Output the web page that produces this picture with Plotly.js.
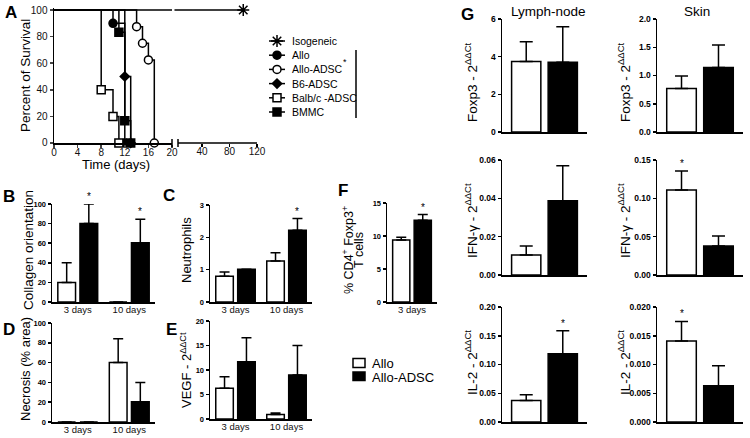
<!DOCTYPE html>
<html><head><meta charset="utf-8">
<script src="https://cdn.plot.ly/plotly-3.0.1.min.js"></script>
<style>html,body{margin:0;padding:0;background:#fff}#chart{width:750px;height:438px}</style>
</head><body><div id="chart"></div>
<script>
// ---------- Panel A : survival ----------
const isoDays = [0, 100],          isoSurv = [100, 100];
const alloDays = [0, 10, 12],      alloSurv = [100, 90, 0];
const alloAdscDays = [0, 14, 15, 16, 17], alloAdscSurv = [100, 87.5, 75, 62.5, 0];
const b6Days = [0, 12, 13],        b6Surv = [100, 50, 0];
const balbDays = [0, 8, 10, 11],   balbSurv = [100, 40, 20, 0];
const bmmcDays = [0, 11, 12, 13],  bmmcSurv = [100, 83.3, 16.7, 0];
const groupNames = ['Isogeneic', 'Allo', 'Allo-ADSC', 'B6-ADSC', 'Balb/c -ADSC', 'BMMC'];
const timeTicksLeft = [0, 4, 8, 12, 16, 20];
const timeTicksRight = [40, 80, 120];
const survTicks = [0, 20, 40, 60, 80, 100];

// ---------- Bar panels ----------
const seriesNames = ['Allo', 'Allo-ADSC'];
const dayCats = ['3 days', '10 days'];
const fCats = ['3 days'];
const gCats = [' '];

// B collagen orientation
const collAllo = [20, 0],   collAlloErr = [20, null], collAlloSig = [false, false];
const collAdsc = [80, 60.5], collAdscErr = [20, 24],  collAdscSig = [true, true];
// C neutrophils
const neuAllo = [0.8, 1.27], neuAlloErr = [0.13, 0.25], neuAlloSig = [false, false];
const neuAdsc = [1.01, 2.22], neuAdscErr = [null, 0.36], neuAdscSig = [false, true];
// D necrosis
const necAllo = [0, 60], necAlloErr = [null, 24], necAlloSig = [false, false];
const necAdsc = [0, 20.5], necAdscErr = [null, 19.5], necAdscSig = [false, false];
// E VEGF
const vegAllo = [6.3, 0.9], vegAlloErr = [2.3, 0.3], vegAlloSig = [false, false];
const vegAdsc = [11.7, 9.0], vegAdscErr = [4.9, 6.0], vegAdscSig = [false, false];
// F % CD4+ Foxp3+
const tregAllo = [9.4], tregAlloErr = [0.4], tregAlloSig = [false];
const tregAdsc = [12.4], tregAdscErr = [0.85], tregAdscSig = [true];
// G qPCR
const foxLnAllo = [3.74], foxLnAlloErr = [1.05], foxLnAlloSig = [false];
const foxLnAdsc = [3.70], foxLnAdscErr = [1.89], foxLnAdscSig = [false];
const foxSkAllo = [0.77], foxSkAlloErr = [0.22], foxSkAlloSig = [false];
const foxSkAdsc = [1.14], foxSkAdscErr = [0.40], foxSkAdscSig = [false];
const ifnLnAllo = [0.0104], ifnLnAlloErr = [0.0047], ifnLnAlloSig = [false];
const ifnLnAdsc = [0.0388], ifnLnAdscErr = [0.0182], ifnLnAdscSig = [false];
const ifnSkAllo = [0.111], ifnSkAlloErr = [0.0247], ifnSkAlloSig = [true];
const ifnSkAdsc = [0.0378], ifnSkAdscErr = [0.0131], ifnSkAdscSig = [false];
const il2LnAllo = [0.0376], il2LnAlloErr = [0.0099], il2LnAlloSig = [false];
const il2LnAdsc = [0.1188], il2LnAdscErr = [0.0400], il2LnAdscSig = [true];
const il2SkAllo = [0.0141], il2SkAlloErr = [0.0034], il2SkAlloSig = [true];
const il2SkAdsc = [0.0063], il2SkAdscErr = [0.0035], il2SkAdscSig = [false];

// ---------- helpers ----------
const W = 750, H = 438;
const X = p => p / W, Y = p => 1 - p / H;
const FONT = '"Liberation Sans", Arial, Helvetica, sans-serif';
const BLK = '#000';
const BARGAP = 0.14;
const traces = [], annotations = [], shapes = [];
const layout = {
  width: W, height: H, margin: {l: 0, r: 0, t: 0, b: 0},
  paper_bgcolor: '#fff', plot_bgcolor: 'rgba(0,0,0,0)', showlegend: false,
  barmode: 'group', bargap: BARGAP, bargroupgap: 0.2,
  font: {family: FONT, color: BLK}
};

function yAx(dom, anchor, range, dtick, fmt, fs) {
  return {domain: [Y(dom[0]), Y(dom[1])], anchor: anchor, range: range, dtick: dtick, tick0: 0,
    tickformat: fmt, showline: true, linewidth: 1.5, linecolor: BLK, ticks: 'outside',
    ticklen: 3, tickwidth: 1.5, tickcolor: BLK, showgrid: false, zeroline: false, fixedrange: true,
    tickfont: {family: FONT, size: fs, color: BLK, weight: 'bold'}};
}
function xAx(dom, anchor, cats, showLabels) {
  return {domain: [X(dom[0]), X(dom[1])], anchor: anchor, type: 'category', categoryarray: cats,
    showline: true, linewidth: 1.5, linecolor: BLK, ticks: '', showgrid: false, zeroline: false,
    fixedrange: true, showticklabels: showLabels, ticklabelstandoff: -2,
    tickfont: {family: FONT, size: 9.5, color: '#111'}};
}
function barPanel(n, cats, a, aErr, aSig, b, bErr, bSig, capW) {
  const xa = 'x' + n, ya = 'y' + n;
  [[a, aErr, aSig, '#fff', -1], [b, bErr, bSig, BLK, 1]].forEach(([v, e, s, col, side], k) => {
    traces.push({type: 'bar', x: cats, y: v, xaxis: xa, yaxis: ya, name: seriesNames[k],
      marker: {color: col, line: {color: BLK, width: 1.5}}, cliponaxis: false, hoverinfo: 'skip',
      error_y: {type: 'data', symmetric: false, array: e, arrayminus: e.map(() => 0),
        color: BLK, thickness: 1.5, width: capW}});
    v.forEach((val, i) => {
      if (s[i]) annotations.push({xref: xa, yref: ya, x: i + side * (1 - BARGAP) / 4,
        y: val + (e[i] || 0), text: '*', showarrow: false, yanchor: 'bottom', yshift: 0,
        font: {family: FONT, size: 10, color: BLK}});
    });
  });
}
function txt(x, y, text, size, opts) {
  annotations.push(Object.assign({xref: 'paper', yref: 'paper', x: X(x), y: Y(y), text: text,
    showarrow: false, xanchor: 'center', yanchor: 'middle',
    font: {family: FONT, size: size, color: BLK}}, opts || {}));
}
function hline(x0, x1, y) { shapes.push({type: 'line', xref: 'paper', yref: 'paper', x0: X(x0), x1: X(x1), y0: Y(y), y1: Y(y), line: {color: BLK, width: 1.5}}); }
function vline(x, y0, y1) { shapes.push({type: 'line', xref: 'paper', yref: 'paper', x0: X(x), x1: X(x), y0: Y(y0), y1: Y(y1), line: {color: BLK, width: 1.5}}); }

// ---------- Panel A axes ----------
const aTop = 10 - 1.5 * 133 / 100;
const aTickFont = {family: FONT, size: 10, color: '#111'};
layout.xaxis = {domain: [X(54), X(172)], anchor: 'y', range: [0, 20], tickvals: timeTicksLeft,
  showline: true, linewidth: 1.5, linecolor: BLK, ticks: 'outside', ticklen: 3, tickwidth: 1.5,
  ticklabelstandoff: -4, showgrid: false, zeroline: false, fixedrange: true, tickfont: aTickFont};
layout.xaxis2 = {domain: [X(172), X(257)], anchor: 'y', range: [-3.6, 120], tickvals: timeTicksRight,
  showline: false, ticks: 'outside', ticklen: 3, tickwidth: 1.5, tickcolor: BLK, ticklabelstandoff: -4,
  showgrid: false, zeroline: false, fixedrange: true, tickfont: aTickFont};
layout.yaxis = {domain: [Y(143), Y(aTop)], anchor: 'x', range: [0, 101.5], tickvals: survTicks,
  showline: true, linewidth: 1.5, linecolor: BLK, ticks: 'outside', ticklen: 3, tickwidth: 1.5,
  showgrid: false, zeroline: false, fixedrange: true, tickfont: aTickFont};
hline(178, 257, 143);
vline(172, 139, 147); vline(178, 139, 147);

const groups = [
  {d: isoDays, s: isoSurv, sym: 'asterisk-open', fill: BLK, size: 10},
  {d: alloDays, s: alloSurv, sym: 'circle', fill: BLK, size: 8},
  {d: alloAdscDays, s: alloAdscSurv, sym: 'circle', fill: '#fff', size: 8},
  {d: b6Days, s: b6Surv, sym: 'diamond', fill: BLK, size: 7},
  {d: balbDays, s: balbSurv, sym: 'square', fill: '#fff', size: 8},
  {d: bmmcDays, s: bmmcSurv, sym: 'square', fill: BLK, size: 8}
];
groups.forEach((g, k) => {
  traces.push({type: 'scatter', mode: 'lines', x: g.d, y: g.s, xaxis: 'x', yaxis: 'y',
    line: {shape: 'hv', color: BLK, width: 1.5}, hoverinfo: 'skip'});
  if (k === 0) traces.push({type: 'scatter', mode: 'lines', x: g.d, y: g.s, xaxis: 'x2', yaxis: 'y',
    line: {shape: 'hv', color: BLK, width: 1.5}, hoverinfo: 'skip'});
});
groups.forEach((g, k) => {
  traces.push({type: 'scatter', mode: 'markers', x: g.d.slice(1), y: g.s.slice(1),
    xaxis: k === 0 ? 'x2' : 'x', yaxis: 'y', cliponaxis: false, hoverinfo: 'skip',
    marker: {symbol: g.sym, color: g.fill, size: g.size, line: {color: BLK, width: 1.5}}});
});
// legend for A (overlay axis in pixel units)
layout.xaxis14 = {domain: [0, 1], range: [0, W], visible: false, fixedrange: true, anchor: 'y14'};
layout.yaxis14 = {domain: [0, 1], range: [H, 0], visible: false, fixedrange: true, anchor: 'x14'};
groups.forEach((g, k) => {
  const yy = 41 + 14.2 * k;
  traces.push({type: 'scatter', mode: 'lines', x: [269, 285], y: [yy, yy], xaxis: 'x14', yaxis: 'y14',
    line: {color: BLK, width: 1.5}, hoverinfo: 'skip', cliponaxis: false});
  traces.push({type: 'scatter', mode: 'markers', x: [277], y: [yy], xaxis: 'x14', yaxis: 'y14',
    cliponaxis: false, hoverinfo: 'skip',
    marker: {symbol: g.sym, color: g.fill, size: g.size, line: {color: BLK, width: 1.5}}});
  txt(290, yy, groupNames[k], 10.5, {xanchor: 'left'});
});
txt(345, 62, '*', 9);
vline(356, 50, 118);

// ---------- Bar panel axes ----------
layout.xaxis3 = xAx([52, 155], 'y3', dayCats, true);  layout.yaxis3 = yAx([302, 204], 'x3', [0, 100], 20, '', 7.5);
layout.xaxis4 = xAx([210, 312], 'y4', dayCats, true); layout.yaxis4 = yAx([302, 205], 'x4', [0, 3], 1, '', 7.5);
layout.xaxis5 = xAx([52, 155], 'y5', dayCats, true);  layout.yaxis5 = yAx([422, 323], 'x5', [0, 100], 20, '', 7.5);
layout.xaxis6 = xAx([210, 312], 'y6', dayCats, true); layout.yaxis6 = yAx([419, 321], 'x6', [0, 20], 5, '', 7.5);
layout.xaxis7 = xAx([387, 437], 'y7', fCats, true);   layout.yaxis7 = yAx([302, 203], 'x7', [0, 15], 5, '', 7.5);
layout.xaxis8 = xAx([502, 587], 'y8', gCats, false);  layout.yaxis8 = yAx([132, 19], 'x8', [0, 6], 2, '', 8.5);
layout.xaxis9 = xAx([657, 743], 'y9', gCats, false);  layout.yaxis9 = yAx([132, 19], 'x9', [0, 2], 0.5, '.1f', 8.5);
layout.xaxis10 = xAx([502, 587], 'y10', gCats, false); layout.yaxis10 = yAx([275, 160], 'x10', [0, 0.06], 0.02, '.2f', 8.5);
layout.xaxis11 = xAx([657, 743], 'y11', gCats, false); layout.yaxis11 = yAx([275, 160], 'x11', [0, 0.15], 0.05, '.2f', 8.5);
layout.xaxis12 = xAx([502, 587], 'y12', gCats, false); layout.yaxis12 = yAx([422, 307], 'x12', [0, 0.2], 0.05, '.2f', 8.5);
layout.xaxis13 = xAx([657, 743], 'y13', gCats, false); layout.yaxis13 = yAx([422, 307], 'x13', [0, 0.02], 0.005, '.3f', 8.5);

barPanel(3, dayCats, collAllo, collAlloErr, collAlloSig, collAdsc, collAdscErr, collAdscSig, 5);
barPanel(4, dayCats, neuAllo, neuAlloErr, neuAlloSig, neuAdsc, neuAdscErr, neuAdscSig, 5);
barPanel(5, dayCats, necAllo, necAlloErr, necAlloSig, necAdsc, necAdscErr, necAdscSig, 5);
barPanel(6, dayCats, vegAllo, vegAlloErr, vegAlloSig, vegAdsc, vegAdscErr, vegAdscSig, 5);
barPanel(7, fCats, tregAllo, tregAlloErr, tregAlloSig, tregAdsc, tregAdscErr, tregAdscSig, 5);
barPanel(8, gCats, foxLnAllo, foxLnAlloErr, foxLnAlloSig, foxLnAdsc, foxLnAdscErr, foxLnAdscSig, 6.5);
barPanel(9, gCats, foxSkAllo, foxSkAlloErr, foxSkAlloSig, foxSkAdsc, foxSkAdscErr, foxSkAdscSig, 6.5);
barPanel(10, gCats, ifnLnAllo, ifnLnAlloErr, ifnLnAlloSig, ifnLnAdsc, ifnLnAdscErr, ifnLnAdscSig, 6.5);
barPanel(11, gCats, ifnSkAllo, ifnSkAlloErr, ifnSkAlloSig, ifnSkAdsc, ifnSkAdscErr, ifnSkAdscSig, 6.5);
barPanel(12, gCats, il2LnAllo, il2LnAlloErr, il2LnAlloSig, il2LnAdsc, il2LnAdscErr, il2LnAdscSig, 6.5);
barPanel(13, gCats, il2SkAllo, il2SkAlloErr, il2SkAlloSig, il2SkAdsc, il2SkAdscErr, il2SkAdscSig, 6.5);

// ---------- texts ----------
txt(11, 13, '<b>A</b>', 17); txt(9, 197, '<b>B</b>', 17); txt(169, 195, '<b>C</b>', 17);
txt(9, 329, '<b>D</b>', 17); txt(171, 329, '<b>E</b>', 17); txt(343, 190, '<b>F</b>', 17);
txt(467, 14, '<b>G</b>', 17);
txt(25, 76, 'Percent of Survival', 13.5, {textangle: -90});
txt(116, 165, 'Time (days)', 13);
txt(28, 250, 'Collagen orientation', 13.5, {textangle: -90});
txt(186, 250, 'Neutrophils', 13, {textangle: -90});
txt(25, 369, 'Necrosis (% area)', 13, {textangle: -90});
const dd = '2<sup>ΔΔCt</sup>';
txt(186, 370, 'VEGF - ' + dd, 13, {textangle: -90});
txt(348, 250, '% CD4<sup>+</sup> Foxp3<sup>+</sup>', 12.5, {textangle: -90});
txt(359, 250, 'T cells', 12.5, {textangle: -90});
txt(548, 11, 'Lymph-node', 13.5);
txt(697, 11, 'Skin', 13.5);
txt(471, 83, 'Foxp3 - ' + dd, 13.5, {textangle: -90});
txt(624, 83, 'Foxp3 - ' + dd, 13.5, {textangle: -90});
txt(471, 221, 'IFN-γ - ' + dd, 13.5, {textangle: -90});
txt(624, 221, 'IFN-γ - ' + dd, 13.5, {textangle: -90});
txt(471, 363, 'IL-2 - ' + dd, 13.5, {textangle: -90});
txt(624, 363, 'IL-2 - ' + dd, 13.5, {textangle: -90});
// bar legend
shapes.push({type: 'rect', xref: 'paper', yref: 'paper', x0: X(353), x1: X(365), y0: Y(367.5), y1: Y(358.5), fillcolor: '#fff', line: {color: BLK, width: 1.5}});
shapes.push({type: 'rect', xref: 'paper', yref: 'paper', x0: X(353), x1: X(365), y0: Y(380.5), y1: Y(372), fillcolor: BLK, line: {color: BLK, width: 1.5}});
txt(370, 363, seriesNames[0], 13, {xanchor: 'left'});
txt(370, 377, seriesNames[1], 13, {xanchor: 'left'});

layout.annotations = annotations;
layout.shapes = shapes;
Plotly.newPlot('chart', traces, layout, {staticPlot: true, displayModeBar: false});
</script>
</body></html>
